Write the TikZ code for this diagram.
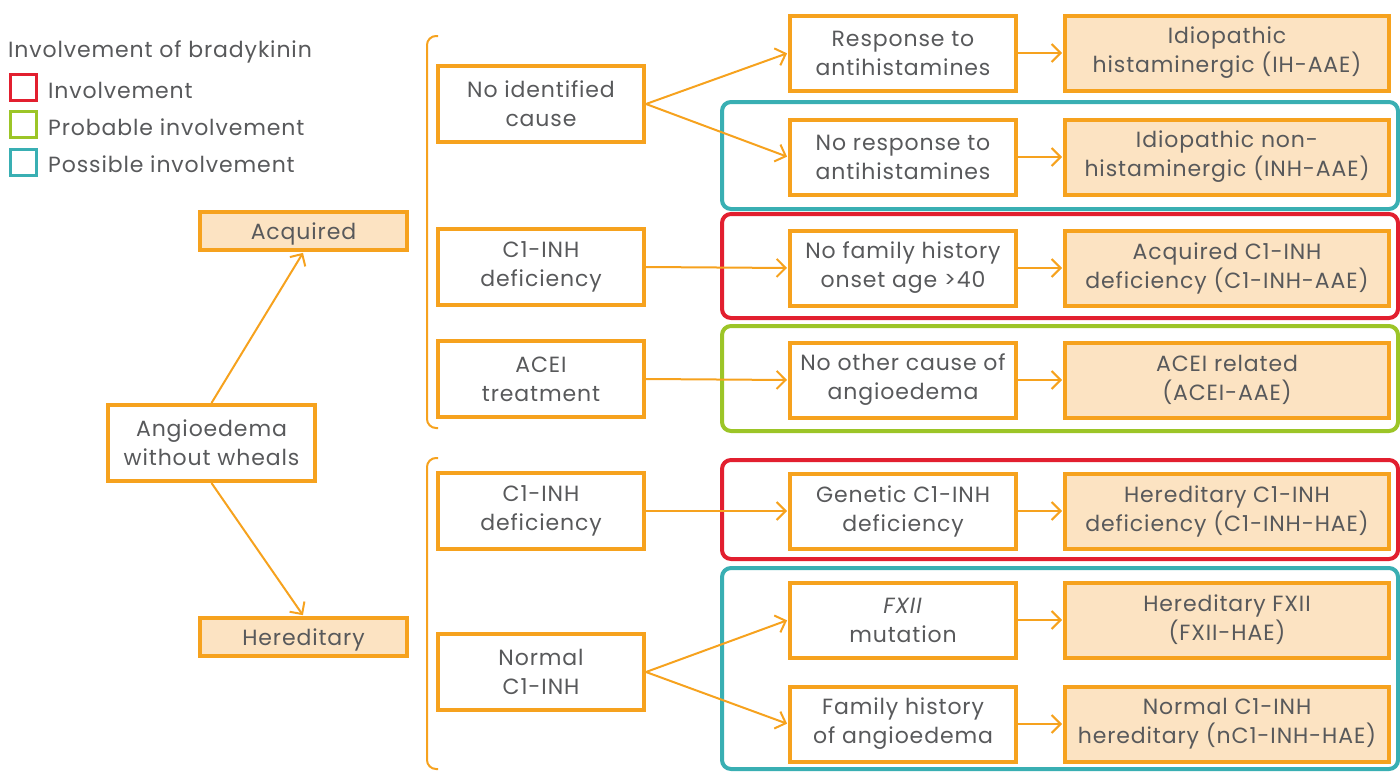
\documentclass[tikz,border=0pt]{standalone}
\usepackage{fontspec}
\setmainfont{Poppins}[LetterSpace=4]
\usetikzlibrary{arrows.meta}
\definecolor{org}{HTML}{F6A21E}
\definecolor{lfill}{HTML}{FCE3C2}
\definecolor{txt}{HTML}{58595B}
\definecolor{ired}{HTML}{E21F2F}
\definecolor{igreen}{HTML}{9CC527}
\definecolor{iteal}{HTML}{39AFB3}
\begin{document}
\begin{tikzpicture}[x=1pt,y=-1pt,
  box/.style={draw=org, line width=4pt, text=txt, align=center, font=\fontsize{22}{29}\selectfont, inner sep=0pt, execute at begin node={\rule{0pt}{22pt}}},
  coltwo/.style={box, minimum width=206pt, minimum height=76pt},
  colthree/.style={box, minimum width=226pt, minimum height=75pt},
  colfour/.style={box, fill=lfill, minimum width=324pt, minimum height=75pt},
  arr/.style={draw=org, line width=2pt, shorten >=1pt, -{Straight Barb[length=9pt,width=18pt]}},
  grp/.style={line width=4pt, rounded corners=9pt},
  legbox/.style={line width=3pt, minimum width=26pt, minimum height=26pt, inner sep=0pt},
  legtxt/.style={anchor=west, text=txt, font=\fontsize{22}{24}\selectfont, inner sep=0pt},
  brk/.style={draw=org, line width=2pt, rounded corners=9pt}]
\useasboundingbox (0,0) rectangle (1400,771);

% group frames
\draw[grp, draw=iteal] (722,102) rectangle (1398,209);
\draw[grp, draw=ired] (722,214) rectangle (1398,318);
\draw[grp, draw=igreen] (722,326) rectangle (1398,431);
\draw[grp, draw=ired] (722,460) rectangle (1398,559);
\draw[grp, draw=iteal] (722,568) rectangle (1398,769);

% legend
\node[legtxt] (legtitle) at (8,52) {Involvement of bradykinin};
\node[legbox, draw=ired] (lr) at (23,87) {};
\node[legbox, draw=igreen] (lg) at (23,124.5) {};
\node[legbox, draw=iteal] (lt) at (23,162) {};
\node[legtxt] (lrt) at (48,90) {Involvement};
\node[legtxt] (lgt) at (48,127) {Probable involvement};
\node[legtxt] (ltt) at (48,164) {Possible involvement};

% brackets
\draw[brk] (438,36) -- (427,36) -- (427,428) -- (438,428);
\draw[brk] (438,458) -- (427,458) -- (427,769) -- (438,769);

% first column
\node[box, minimum width=207pt, minimum height=76pt] (aww) at (211.5,443) {Angioedema\\without wheals};
\node[box, fill=lfill, minimum width=207pt, minimum height=38pt] (acq) at (303.5,231) {Acquired};
\node[box, fill=lfill, minimum width=207pt, minimum height=38pt] (her) at (303.5,637) {Hereditary};

% second column
\node[coltwo] (nic) at (541,104) {No identified\\cause};
\node[coltwo] (c1a) at (541,267) {C1-INH\\deficiency};
\node[coltwo] (acei) at (541,379) {ACEI\\treatment};
\node[coltwo] (c1h) at (541,511) {C1-INH\\deficiency};
\node[coltwo] (nc1) at (541,672) {Normal\\C1-INH};

% third column
\node[colthree] (resp) at (903,53) {Response to\\antihistamines};
\node[colthree] (noresp) at (903,157) {No response to\\antihistamines};
\node[colthree] (nofam) at (903,268) {No family history\\onset age >40};
\node[colthree] (nooth) at (903,380) {No other cause of\\angioedema};
\node[colthree] (gen) at (903,511) {Genetic C1-INH\\deficiency};
\node[colthree] (fxii) at (903,620) {\textit{FXII}\\mutation};
\node[colthree] (famh) at (903,724) {Family history\\of angioedema};

% fourth column
\node[colfour] (ih) at (1227,53) {Idiopathic\\histaminergic (IH-AAE)};
\node[colfour] (inh) at (1227,157) {Idiopathic non-\\histaminergic (INH-AAE)};
\node[colfour] (acqc) at (1227,268) {Acquired C1-INH\\deficiency (C1-INH-AAE)};
\node[colfour] (aceir) at (1227,380) {ACEI related\\(ACEI-AAE)};
\node[colfour] (herc) at (1227,511) {Hereditary C1-INH\\deficiency (C1-INH-HAE)};
\node[colfour] (herf) at (1227,620) {Hereditary FXII\\(FXII-HAE)};
\node[colfour] (nhae) at (1227,724) {Normal C1-INH\\hereditary (nC1-INH-HAE)};

% connectors
\draw[arr] (aww.north) -- (acq.south);
\draw[arr] (aww.south) -- (her.north);
\draw[arr] (nic.east) -- (resp.west);
\draw[arr] (nic.east) -- (noresp.west);
\draw[arr] (c1a.east) -- (nofam.west);
\draw[arr] (acei.east) -- (nooth.west);
\draw[arr] (c1h.east) -- (gen.west);
\draw[arr] (nc1.east) -- (fxii.west);
\draw[arr] (nc1.east) -- (famh.west);
\draw[arr] (resp.east) -- (ih.west);
\draw[arr] (noresp.east) -- (inh.west);
\draw[arr] (nofam.east) -- (acqc.west);
\draw[arr] (nooth.east) -- (aceir.west);
\draw[arr] (gen.east) -- (herc.west);
\draw[arr] (fxii.east) -- (herf.west);
\draw[arr] (famh.east) -- (nhae.west);
\end{tikzpicture}
\end{document}
